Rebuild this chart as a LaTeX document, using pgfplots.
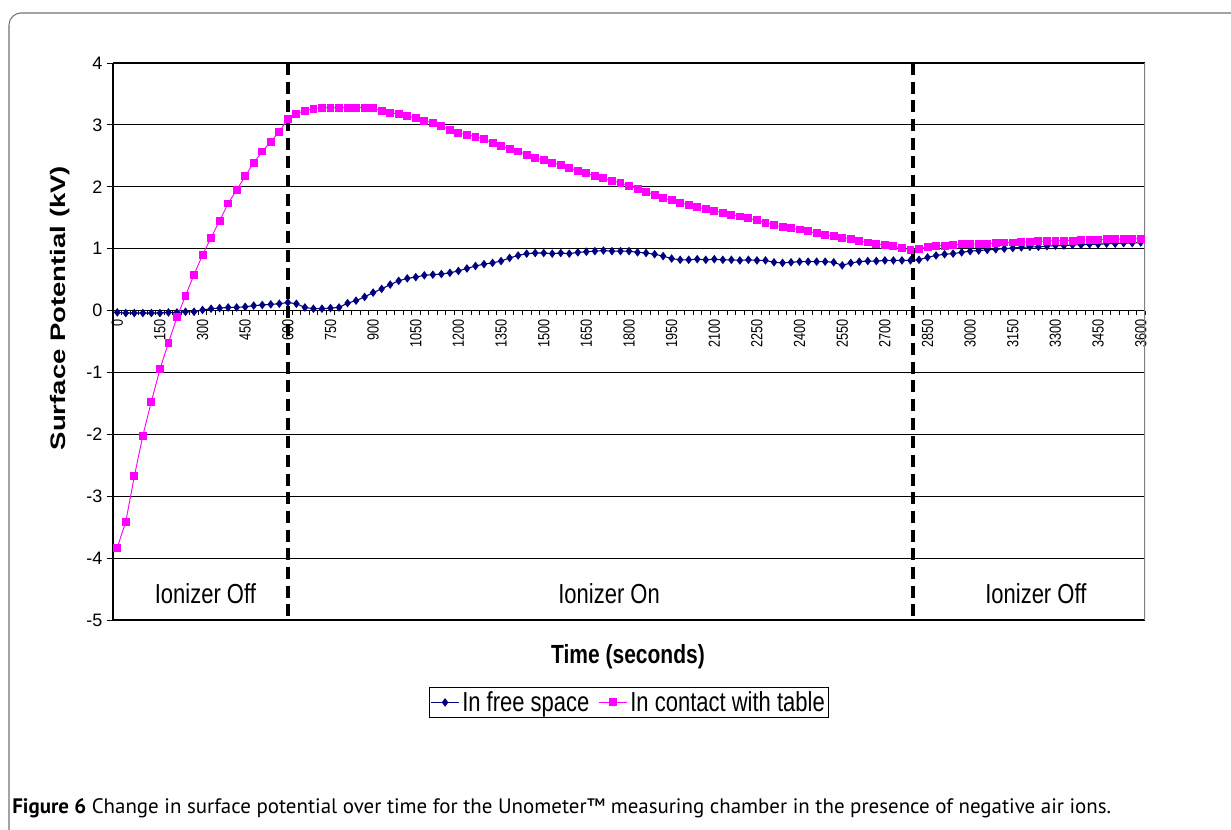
\documentclass[border=0pt]{standalone}
\usepackage{fontspec}
\setmainfont{Liberation Sans}
\newfontfamily\capfont{PT Sans}
\usepackage{graphicx}
\usepackage{pgfplots}
\pgfplotsset{compat=1.18}
\definecolor{navyline}{RGB}{0,0,128}
\definecolor{pinkline}{RGB}{255,0,255}
\newcommand\vs[1]{\scalebox{1}[1.25]{#1}}

\begin{document}
\begin{tikzpicture}
\useasboundingbox (0,0) rectangle (923.25pt,622.5pt);
\fill[white] (0,0) rectangle (923.25pt,622.5pt);
% figure frame
\draw[black!55, line width=0.8pt, rounded corners=9pt]
  (6.75pt,-10pt) -- (6.75pt,612.75pt) -- (940pt,612.75pt);

\begin{axis}[
  at={(84.75pt,157.5pt)}, anchor=south west,
  scale only axis, width=774pt, height=417.75pt,
  xmin=-15, xmax=3615, ymin=-5, ymax=4,
  axis x line*=middle, axis y line*=left,
  axis line style={black, line width=0.9pt},
  /pgf/number format/assume math mode=true,
  /pgf/number format/1000 sep={},
  ytick={-5,...,4},
  ymajorgrids, grid style={black, line width=0.9pt},
  tick align=outside,
  major tick length=4.5pt, minor tick length=3pt,
  xtick={0,150,...,3600},
  minor xtick={-15,15,...,3615},
  major x tick style={draw=none},
  tick style={black, line width=0.6pt},
  xticklabel={\scalebox{1}[1.27]{\pgfmathprintnumber{\tick}}},
  xticklabel style={rotate=90, anchor=east, font=\fontsize{9.5}{10}\selectfont, inner sep=2pt},
  yticklabel style={font=\fontsize{13.5}{14}\selectfont},
  legend style={at={(0.5,-0.148)}, anchor=center, legend columns=2,
    draw=black, line width=0.6pt, inner sep=1pt,
    font=\fontsize{16.5}{17}\selectfont,
    /tikz/every even column/.append style={column sep=5pt}},
  legend image code/.code={
    \draw[mark repeat=2,mark phase=2,#1] plot coordinates {(0pt,0pt) (10.5pt,0pt) (21pt,0pt)};
  },
]
\addplot[navyline, line width=0.8pt, mark=diamond*, mark size=2.6pt, mark options={fill=navyline}] coordinates {
(0,-0.03) (30,-0.04) (60,-0.04) (90,-0.04) (120,-0.04) (150,-0.04) (180,-0.03) (210,-0.03)
(240,-0.02) (270,-0.02) (300,0.01) (330,0.03) (360,0.04) (390,0.05) (420,0.05) (450,0.06)
(480,0.08) (510,0.09) (540,0.10) (570,0.11) (600,0.13) (630,0.11) (660,0.05) (690,0.03)
(720,0.03) (750,0.04) (780,0.05) (810,0.12) (840,0.16) (870,0.22) (900,0.29) (930,0.35)
(960,0.42) (990,0.48) (1020,0.52) (1050,0.54) (1080,0.57) (1110,0.58) (1140,0.59) (1170,0.61)
(1200,0.64) (1230,0.68) (1260,0.72) (1290,0.75) (1320,0.77) (1350,0.80) (1380,0.85) (1410,0.89)
(1440,0.92) (1470,0.93) (1500,0.93) (1530,0.92) (1560,0.93) (1590,0.92) (1620,0.94) (1650,0.95)
(1680,0.96) (1710,0.97) (1740,0.96) (1770,0.96) (1800,0.96) (1830,0.94) (1860,0.93) (1890,0.91)
(1920,0.88) (1950,0.84) (1980,0.82) (2010,0.82) (2040,0.83) (2070,0.82) (2100,0.83) (2130,0.82)
(2160,0.82) (2190,0.81) (2220,0.82) (2250,0.81) (2280,0.81) (2310,0.78) (2340,0.77) (2370,0.78)
(2400,0.79) (2430,0.79) (2460,0.79) (2490,0.79) (2520,0.78) (2550,0.73) (2580,0.77) (2610,0.79)
(2640,0.80) (2670,0.80) (2700,0.81) (2730,0.81) (2760,0.81) (2790,0.81) (2820,0.82) (2850,0.86)
(2880,0.89) (2910,0.91) (2940,0.92) (2970,0.94) (3000,0.96) (3030,0.97) (3060,0.98) (3090,0.99)
(3120,1.00) (3150,1.01) (3180,1.02) (3210,1.03) (3240,1.03) (3270,1.04) (3300,1.05) (3330,1.05)
(3360,1.06) (3390,1.06) (3420,1.07) (3450,1.07) (3480,1.08) (3510,1.08) (3540,1.09) (3570,1.09)
(3600,1.10)
};
\addlegendentry{\vs{In free space}}
\addplot[pinkline, line width=0.7pt, mark=square*, mark size=2.6pt, mark options={fill=pinkline}] coordinates {
(0,-3.83) (30,-3.41) (60,-2.68) (90,-2.02) (120,-1.47) (150,-0.95) (180,-0.52) (210,-0.11)
(240,0.24) (270,0.58) (300,0.90) (330,1.18) (360,1.45) (390,1.73) (420,1.95) (450,2.17)
(480,2.39) (510,2.57) (540,2.73) (570,2.89) (600,3.10) (630,3.18) (660,3.23) (690,3.26)
(720,3.28) (750,3.28) (780,3.28) (810,3.28) (840,3.28) (870,3.28) (900,3.27) (930,3.23)
(960,3.20) (990,3.17) (1020,3.14) (1050,3.11) (1080,3.07) (1110,3.03) (1140,2.98) (1170,2.92)
(1200,2.87) (1230,2.84) (1260,2.81) (1290,2.77) (1320,2.71) (1350,2.66) (1380,2.61) (1410,2.57)
(1440,2.52) (1470,2.47) (1500,2.43) (1530,2.39) (1560,2.35) (1590,2.30) (1620,2.26) (1650,2.22)
(1680,2.18) (1710,2.14) (1740,2.10) (1770,2.06) (1800,2.02) (1830,1.97) (1860,1.92) (1890,1.87)
(1920,1.82) (1950,1.78) (1980,1.74) (2010,1.71) (2040,1.67) (2070,1.64) (2100,1.61) (2130,1.58)
(2160,1.55) (2190,1.52) (2220,1.49) (2250,1.46) (2280,1.42) (2310,1.38) (2340,1.35) (2370,1.33)
(2400,1.31) (2430,1.28) (2460,1.25) (2490,1.22) (2520,1.20) (2550,1.18) (2580,1.16) (2610,1.13)
(2640,1.10) (2670,1.08) (2700,1.06) (2730,1.04) (2760,1.01) (2790,0.98) (2820,1.00) (2850,1.03)
(2880,1.05) (2910,1.05) (2940,1.06) (2970,1.07) (3000,1.07) (3030,1.08) (3060,1.08) (3090,1.09)
(3120,1.10) (3150,1.10) (3180,1.11) (3210,1.11) (3240,1.12) (3270,1.12) (3300,1.13) (3330,1.13)
(3360,1.13) (3390,1.14) (3420,1.14) (3450,1.14) (3480,1.15) (3510,1.15) (3540,1.16) (3570,1.16)
(3600,1.16)
};
\addlegendentry{\vs{In contact with table}}

% plot area border (right)
\draw[black!50, line width=0.8pt] (rel axis cs:1,0) -- (rel axis cs:1,1);
% ionizer switch lines
\draw[black, line width=3pt, dash pattern=on 9pt off 5pt] (axis cs:600,4) -- (axis cs:600,-5.13);
\draw[black, line width=3pt, dash pattern=on 9pt off 5pt] (axis cs:2800,4) -- (axis cs:2800,-5.13);
\node[font=\fontsize{16.5}{17}\selectfont] at (axis cs:310,-4.57) {\vs{Ionizer Off}};
\node[font=\fontsize{16.5}{17}\selectfont] at (axis cs:1730,-4.57) {\vs{Ionizer On}};
\node[font=\fontsize{16.5}{17}\selectfont] at (axis cs:3231,-4.57) {\vs{Ionizer Off}};
\end{axis}

\node[font=\bfseries\fontsize{15.75}{16}\selectfont] at (471pt,129.75pt) {\vs{Time (seconds)}};
\node[rotate=90, font=\bfseries\fontsize{15.75}{16}\selectfont] at (45pt,391.5pt) {\scalebox{1.31}[1]{Surface Potential (kV)}};

\node[anchor=base west, inner sep=0pt, font=\capfont\fontsize{15.7}{17}\selectfont] at (9pt,12pt)
  {\textbf{Figure 6} Change in surface potential over time for the Unometer™ measuring chamber in the presence of negative air ions.};
\end{tikzpicture}
\end{document}
